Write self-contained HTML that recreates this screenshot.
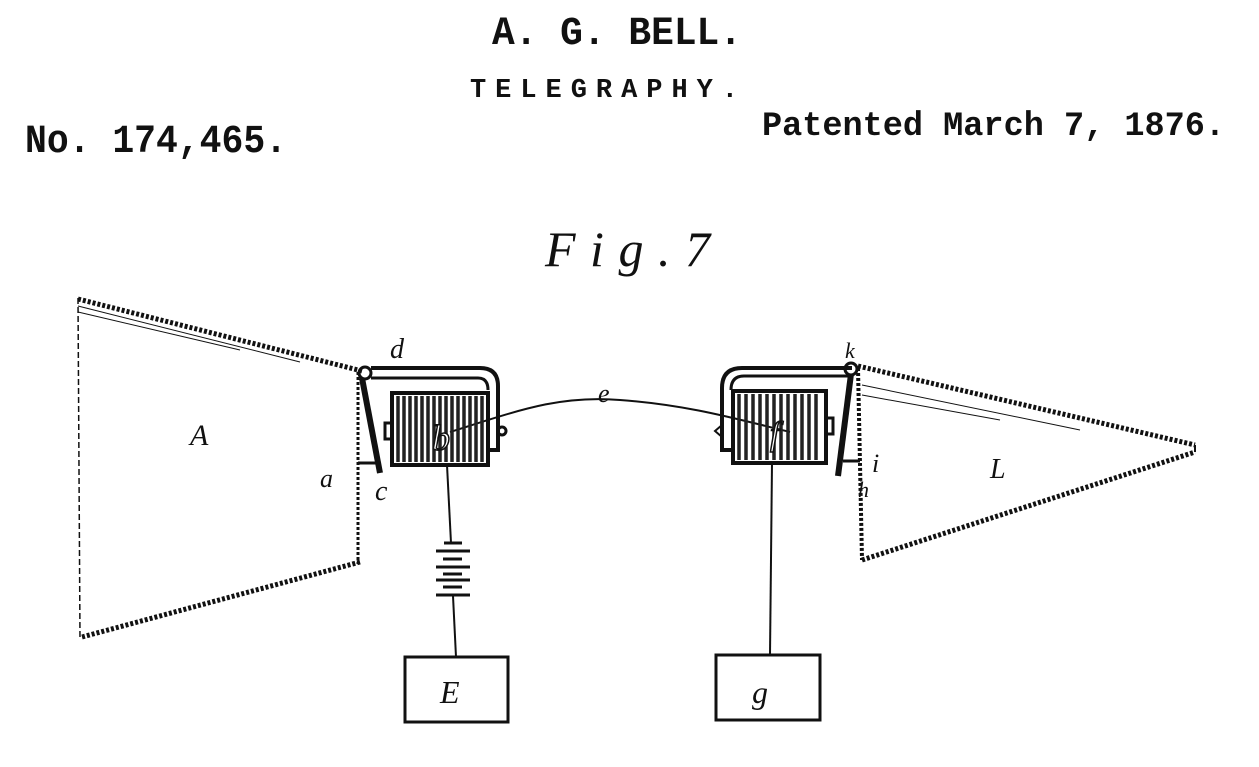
<!DOCTYPE html>
<html><head><meta charset="utf-8"><style>
html,body{margin:0;padding:0;background:#fff;}
svg{display:block}
.t{font-family:"Liberation Mono",monospace;font-weight:bold;fill:#111}
.i{font-family:"Liberation Serif",serif;font-style:italic;fill:#111}
</style></head><body>
<svg width="1259" height="767" viewBox="0 0 1259 767" xmlns="http://www.w3.org/2000/svg">
<rect width="1259" height="767" fill="#fff"/>
<text class="t" x="492" y="44" font-size="40" textLength="250" lengthAdjust="spacingAndGlyphs">A. G. BELL.</text>
<text class="t" x="470" y="97" font-size="27" textLength="268" lengthAdjust="spacing">TELEGRAPHY.</text>
<text class="t" x="25" y="152" font-size="40" textLength="262" lengthAdjust="spacingAndGlyphs">No. 174,465.</text>
<text class="t" x="762" y="135" font-size="34" textLength="463" lengthAdjust="spacingAndGlyphs">Patented March 7, 1876.</text>
<text class="i" x="545" y="266" font-size="50" textLength="165" lengthAdjust="spacing">Fig.7</text>

<g stroke="#111" fill="none">
<line x1="78" y1="298" x2="80" y2="640" stroke-width="1.5" stroke-dasharray="6 3"/>
<line x1="78" y1="299" x2="362" y2="371" stroke-width="5" stroke-dasharray="3 2"/>
<line x1="78" y1="306" x2="300" y2="362" stroke-width="1"/>
<line x1="78" y1="312" x2="240" y2="350" stroke-width="1"/>
<line x1="82" y1="637" x2="360" y2="562" stroke-width="5" stroke-dasharray="3 2"/>
<line x1="358" y1="372" x2="358" y2="564" stroke-width="3" stroke-dasharray="3 2"/>
<circle cx="365" cy="373" r="6" stroke-width="3"/>
<line x1="362" y1="378" x2="380" y2="473" stroke-width="6"/>
<line x1="358" y1="463" x2="376" y2="463" stroke-width="3"/>
<path d="M371,368 L480,368 Q498,368 498,386 L498,450 L488,450" stroke-width="4"/>
<path d="M371,378 L478,378 Q488,378 488,390" stroke-width="3"/>
<rect x="392" y="393" width="96" height="72" stroke-width="4"/>
<rect x="385" y="423" width="7" height="16" stroke-width="3"/>
<circle cx="502" cy="431" r="4" stroke-width="3"/>
<path d="M852,368 L742,368 Q722,368 722,388 L722,450 L733,450" stroke-width="4"/>
<path d="M852,376 L744,376 Q731,376 731,390" stroke-width="3"/>
<rect x="733" y="391" width="93" height="72" stroke-width="4"/>
<rect x="826" y="418" width="7" height="16" stroke-width="3"/>
<path d="M722,425 L715,431 L722,437" stroke-width="2"/>
<circle cx="851" cy="369" r="6" stroke-width="3"/>
<line x1="851" y1="374" x2="838" y2="476" stroke-width="6"/>
<line x1="843" y1="461" x2="860" y2="461" stroke-width="3"/>
<line x1="858" y1="368" x2="862" y2="560" stroke-width="4" stroke-dasharray="3 2"/>
<line x1="858" y1="366" x2="1195" y2="445" stroke-width="5" stroke-dasharray="3 2"/>
<line x1="862" y1="385" x2="1080" y2="430" stroke-width="1"/>
<line x1="862" y1="395" x2="1000" y2="420" stroke-width="1"/>
<line x1="862" y1="560" x2="1195" y2="452" stroke-width="5" stroke-dasharray="3 2"/>
<line x1="1195" y1="445" x2="1195" y2="452" stroke-width="2"/>
<path d="M450,432 C520,410 560,395 620,400 C690,405 740,420 790,432" stroke-width="2"/>
<line x1="447" y1="465" x2="451" y2="543" stroke-width="2"/>
<line x1="453" y1="596" x2="456" y2="657" stroke-width="2"/>
<g stroke-width="3">
<line x1="444" y1="543" x2="462" y2="543"/>
<line x1="436" y1="551" x2="470" y2="551"/>
<line x1="443" y1="559" x2="462" y2="559"/>
<line x1="436" y1="567" x2="470" y2="567"/>
<line x1="443" y1="574" x2="462" y2="574"/>
<line x1="436" y1="580" x2="470" y2="580"/>
<line x1="443" y1="587" x2="462" y2="587"/>
<line x1="436" y1="595" x2="470" y2="595"/>
</g>
<rect x="405" y="657" width="103" height="65" stroke-width="3"/>
<line x1="772" y1="463" x2="770" y2="655" stroke-width="2"/>
<rect x="716" y="655" width="104" height="65" stroke-width="3"/>
</g>
<g stroke="#222" stroke-width="3.5">
<line x1="398" y1="396" x2="398" y2="462"/><line x1="404" y1="396" x2="404" y2="462"/><line x1="410" y1="396" x2="410" y2="462"/><line x1="416" y1="396" x2="416" y2="462"/><line x1="422" y1="396" x2="422" y2="462"/><line x1="428" y1="396" x2="428" y2="462"/><line x1="434" y1="396" x2="434" y2="462"/><line x1="440" y1="396" x2="440" y2="462"/><line x1="446" y1="396" x2="446" y2="462"/><line x1="452" y1="396" x2="452" y2="462"/><line x1="458" y1="396" x2="458" y2="462"/><line x1="464" y1="396" x2="464" y2="462"/><line x1="470" y1="396" x2="470" y2="462"/><line x1="476" y1="396" x2="476" y2="462"/><line x1="482" y1="396" x2="482" y2="462"/>
<line x1="739" y1="394" x2="739" y2="460"/><line x1="746" y1="394" x2="746" y2="460"/><line x1="753" y1="394" x2="753" y2="460"/><line x1="760" y1="394" x2="760" y2="460"/><line x1="767" y1="394" x2="767" y2="460"/><line x1="774" y1="394" x2="774" y2="460"/><line x1="781" y1="394" x2="781" y2="460"/><line x1="788" y1="394" x2="788" y2="460"/><line x1="795" y1="394" x2="795" y2="460"/><line x1="802" y1="394" x2="802" y2="460"/><line x1="809" y1="394" x2="809" y2="460"/><line x1="816" y1="394" x2="816" y2="460"/>
</g>
<g class="i" font-size="30">
<text x="190" y="445">A</text>
<text x="320" y="487" font-size="26">a</text>
<text x="375" y="500" font-size="28">c</text>
<text x="390" y="358" font-size="28">d</text>
<text x="432" y="450" font-size="36" fill="#fff" stroke="#111" stroke-width="1.5">b</text>
<text x="598" y="402" font-size="26">e</text>
<text x="770" y="445" font-size="34" fill="#fff" stroke="#111" stroke-width="1.5">f</text>
<text x="845" y="358" font-size="22">k</text>
<text x="858" y="497" font-size="22">h</text>
<text x="872" y="472" font-size="26">i</text>
<text x="990" y="478" font-size="28">L</text>
<text x="440" y="703" font-size="32">E</text>
<text x="752" y="703" font-size="32">g</text>
</g>
</svg>
</body></html>
